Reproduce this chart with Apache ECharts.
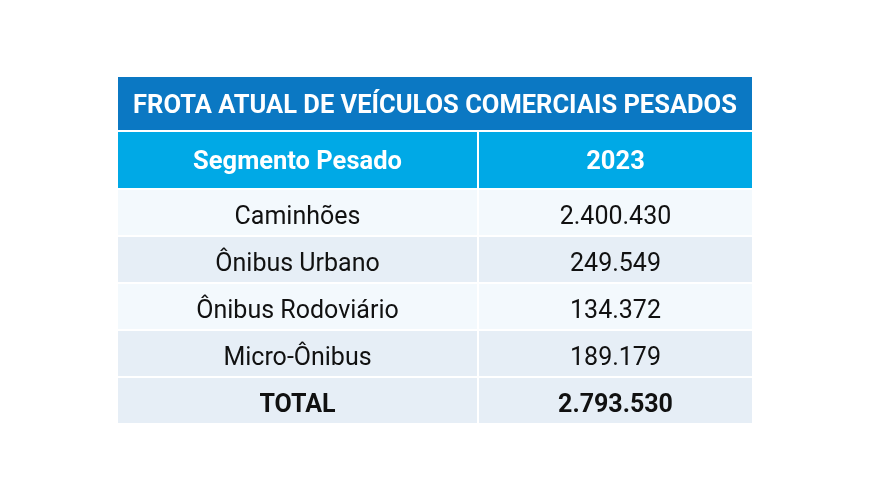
<!DOCTYPE html>
<html>
<head>
<meta charset="utf-8">
<script src="https://cdn.jsdelivr.net/npm/echarts@6/dist/echarts.min.js"></script>
<style>html,body{margin:0;padding:0;background:#fff}#c{width:870px;height:500px}</style>
</head>
<body>
<div id="c"></div>
<script>
const tableTitle = 'FROTA ATUAL DE VEÍCULOS COMERCIAIS PESADOS';
const columns = ['Segmento Pesado', '2023'];
const segments = ['Caminhões', 'Ônibus Urbano', 'Ônibus Rodoviário', 'Micro-Ônibus', 'TOTAL'];
const fleet2023 = [2400430, 249549, 134372, 189179, 2793530];

const FONT = 'Roboto, "Open Sans", sans-serif';
const fmt = v => String(v).replace(/\B(?=(\d{3})+(?!\d))/g, '.');

function cellRenderer(opts) {
  return function (params, api) {
    const xc = api.value(0), yc = api.value(1), label = api.value(2);
    const c = api.coord([xc, yc]);
    const s = api.size([1, 1]);
    const x0 = c[0] - s[0] / 2 + 1, y0 = c[1] - s[1] / 2 + 1;
    const w = s[0] - 2, h = s[1] - 2;
    const idx = params.dataIndex;
    const isTotal = opts.totalIdx === idx;
    const fillBg = typeof opts.bg === 'function' ? opts.bg(idx) : opts.bg;
    return {
      type: 'group',
      children: [
        { type: 'rect', shape: { x: x0, y: y0, width: w, height: h }, style: { fill: fillBg } },
        { type: 'text', style: {
            text: label, x: c[0], y: c[1] + (opts.dy || 0), align: 'center', verticalAlign: 'middle',
            fill: opts.color, fontFamily: FONT,
            fontSize: opts.size, fontWeight: (opts.bold || isTotal) ? 'bold' : 'normal'
        } }
      ]
    };
  };
}

const grids = [
  { left: 117, top: 76, width: 636, height: 55 },   // title
  { left: 117, top: 131, width: 361, height: 58 },  // header left
  { left: 478, top: 131, width: 275, height: 58 },  // header right
  { left: 117, top: 189, width: 361, height: 235 }, // body left
  { left: 478, top: 189, width: 275, height: 235 }  // body right
];
const xCats = [[tableTitle], [columns[0]], [columns[1]], [columns[0]], [columns[1]]];
const yCats = [['t'], ['h'], ['h'], segments, segments];

const rowBg = i => (i === segments.length - 1 || i % 2 === 1) ? '#e6eef6' : '#f3f9fd';

const option = {
  animation: false,
  backgroundColor: '#ffffff',
  grid: grids,
  xAxis: grids.map((g, i) => ({ type: 'category', gridIndex: i, data: xCats[i], show: false })),
  yAxis: grids.map((g, i) => ({ type: 'category', gridIndex: i, data: yCats[i], show: false, inverse: true })),
  series: [
    { type: 'custom', xAxisIndex: 0, yAxisIndex: 0, data: [[tableTitle, 't', tableTitle]],
      renderItem: cellRenderer({ bg: '#0b78c3', color: '#ffffff', size: 25.5, bold: true, dy: 3 }) },
    { type: 'custom', xAxisIndex: 1, yAxisIndex: 1, data: [[columns[0], 'h', columns[0]]],
      renderItem: cellRenderer({ bg: '#00a9e6', color: '#ffffff', size: 25.5, bold: true, dy: 3 }) },
    { type: 'custom', xAxisIndex: 2, yAxisIndex: 2, data: [[columns[1], 'h', columns[1]]],
      renderItem: cellRenderer({ bg: '#00a9e6', color: '#ffffff', size: 25.5, bold: true, dy: 3 }) },
    { type: 'custom', xAxisIndex: 3, yAxisIndex: 3,
      data: segments.map(s => [columns[0], s, s]),
      renderItem: cellRenderer({ bg: rowBg, color: '#111111', size: 25, totalIdx: segments.length - 1, dy: 5 }) },
    { type: 'custom', xAxisIndex: 4, yAxisIndex: 4,
      data: segments.map((s, i) => [columns[1], s, fmt(fleet2023[i])]),
      renderItem: cellRenderer({ bg: rowBg, color: '#111111', size: 25, totalIdx: segments.length - 1, dy: 5 }) }
  ]
};

const chart = echarts.init(document.getElementById('c'), null, { renderer: 'canvas' });
chart.setOption(option);
</script>
</body>
</html>
